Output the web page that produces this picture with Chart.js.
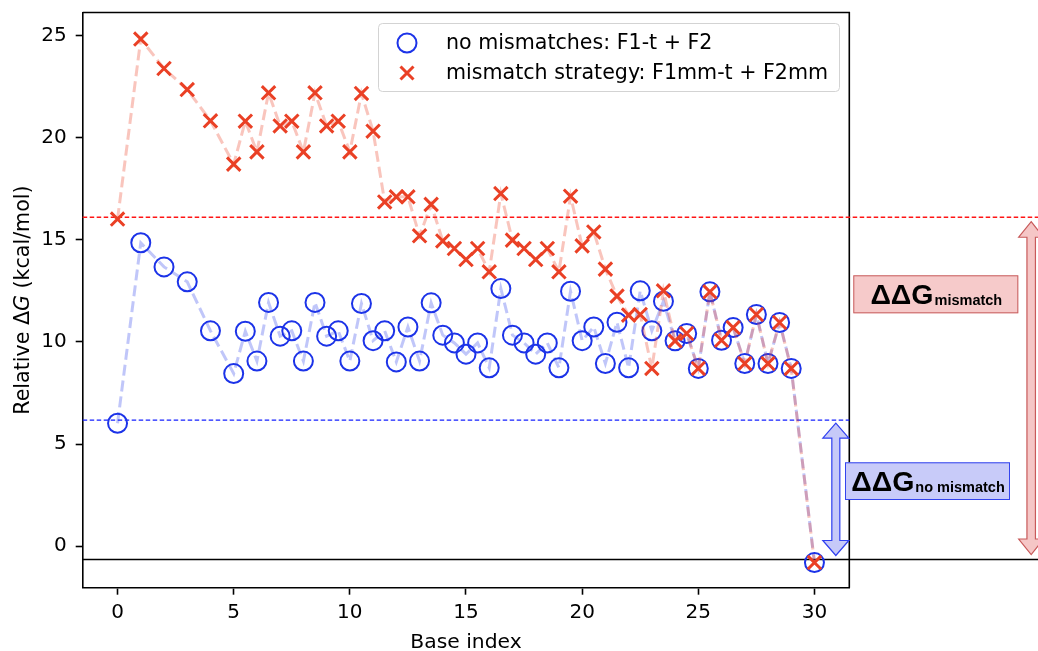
<!DOCTYPE html>
<html>
<head>
<meta charset="utf-8">
<script src="https://cdn.jsdelivr.net/npm/chart.js@4.4.1/dist/chart.umd.min.js"></script>
<style>
html,body{margin:0;padding:0;background:#fff;}
#wrap{width:1038px;height:651px;}
</style>
</head>
<body>
<div id="wrap"><canvas id="c" width="1038" height="651"></canvas></div>
<script>
// ---- data ----
const baseIndex = [0,1,2,3,4,5,5.5,6,6.5,7,7.5,8,8.5,9,9.5,10,10.5,11,11.5,12,12.5,13,13.5,14,14.5,15,15.5,16,16.5,17,17.5,18,18.5,19,19.5,20,20.5,21,21.5,22,22.5,23,23.5,24,24.5,25,25.5,26,26.5,27,27.5,28,28.5,29,30];
const noMismatch = [6.02,14.85,13.67,12.94,10.54,8.45,10.52,9.06,11.93,10.28,10.54,9.06,11.93,10.28,10.54,9.06,11.88,10.06,10.54,9.02,10.73,9.06,11.91,10.33,9.95,9.40,9.95,8.73,12.61,10.33,9.95,9.40,9.95,8.73,12.48,10.06,10.73,8.94,10.96,8.73,12.50,10.54,11.99,10.05,10.41,8.70,12.45,10.08,10.70,8.94,11.34,8.94,10.95,8.70,-0.80];
const mismatch = [16.01,24.82,23.38,22.35,20.82,18.70,20.80,19.30,22.19,20.57,20.80,19.30,22.19,20.57,20.80,19.30,22.16,20.31,16.85,17.10,17.10,15.19,16.73,14.94,14.57,14.03,14.57,13.43,17.26,14.98,14.57,14.03,14.57,13.43,17.13,14.70,15.38,13.56,12.24,11.31,11.34,8.70,12.50,10.05,10.41,8.70,12.45,10.08,10.70,8.94,11.34,8.94,10.95,8.70,-0.80];
const xTicks = [0,5,10,15,20,25,30];
const yTicks = [0,5,10,15,20,25];
const seriesLabels = ['no mismatches: F1-t + F2', 'mismatch strategy: F1mm-t + F2mm'];
const levelMismatch = 16.1;     // red dashed reference
const levelNoMismatch = 6.17;   // blue dashed reference
const levelFloor = -0.65;       // black solid reference
const arrowXNoMismatch = 30.92; // x (data units) of blue ΔΔG arrow
const arrowXMismatch = 39.33;   // x (data units) of red ΔΔG arrow

const BLUE = '#1c33e8';
const RED = '#ea4025';
const FONT = "'DejaVu Sans', sans-serif";
const TARGET = {left: 82.7, top: 11.7, right: 849.3, bottom: 587.7};

function doubleArrow(ctx, cx, yTop, yBot, shaftW, headW, headL, fill, stroke){
  ctx.beginPath();
  ctx.moveTo(cx, yTop);
  ctx.lineTo(cx + headW/2, yTop + headL);
  ctx.lineTo(cx + shaftW/2, yTop + headL);
  ctx.lineTo(cx + shaftW/2, yBot - headL);
  ctx.lineTo(cx + headW/2, yBot - headL);
  ctx.lineTo(cx, yBot);
  ctx.lineTo(cx - headW/2, yBot - headL);
  ctx.lineTo(cx - shaftW/2, yBot - headL);
  ctx.lineTo(cx - shaftW/2, yTop + headL);
  ctx.lineTo(cx - headW/2, yTop + headL);
  ctx.closePath();
  ctx.fillStyle = fill; ctx.fill();
  ctx.lineWidth = 1.2; ctx.strokeStyle = stroke; ctx.stroke();
}

function labelBox(ctx, x, y, w, h, fill, stroke, sub){
  ctx.fillStyle = fill; ctx.fillRect(x, y, w, h);
  ctx.lineWidth = 1; ctx.strokeStyle = stroke; ctx.strokeRect(x+0.5, y+0.5, w-1, h-1);
  const big = "bold 28.5px 'Liberation Sans', Arial, sans-serif";
  const small = "bold 14.5px 'Liberation Sans', Arial, sans-serif";
  ctx.font = big; const w1 = ctx.measureText('ΔΔG').width;
  ctx.font = small; const w2 = ctx.measureText(sub).width;
  const start = x + w/2 - (w1 + w2)/2;
  const base = y + h - 9.5;
  ctx.fillStyle = '#000'; ctx.textBaseline = 'alphabetic'; ctx.textAlign = 'left';
  ctx.font = big; ctx.fillText('ΔΔG', start, base);
  ctx.font = small; ctx.fillText(sub, start + w1 + 1, base + 1.5);
}

const annot = {
  id: 'annot',
  beforeDatasetsDraw(chart){
    const {ctx, chartArea: a, scales: {y}} = chart;
    ctx.save();
    ctx.strokeStyle = '#000'; ctx.lineWidth = 1.6;
    ctx.beginPath(); ctx.moveTo(a.left, a.top); ctx.lineTo(a.right, a.top); ctx.lineTo(a.right, a.bottom); ctx.stroke();
    ctx.lineWidth = 1.3; ctx.setLineDash([4.5, 2.5]);
    let yy = y.getPixelForValue(levelMismatch);
    ctx.strokeStyle = '#ff1515';
    ctx.beginPath(); ctx.moveTo(a.left, yy); ctx.lineTo(chart.width, yy); ctx.stroke();
    yy = y.getPixelForValue(levelNoMismatch);
    ctx.strokeStyle = '#1520ff';
    ctx.beginPath(); ctx.moveTo(a.left, yy); ctx.lineTo(a.right, yy); ctx.stroke();
    ctx.setLineDash([]);
    yy = y.getPixelForValue(levelFloor);
    ctx.strokeStyle = '#000'; ctx.lineWidth = 1.5;
    ctx.beginPath(); ctx.moveTo(a.left, yy); ctx.lineTo(chart.width, yy); ctx.stroke();
    ctx.restore();
  },
  afterDraw(chart){
    const {ctx, chartArea: a, scales: {x, y}} = chart;
    ctx.save();
    const yM = y.getPixelForValue(levelMismatch), yN = y.getPixelForValue(levelNoMismatch), yF = y.getPixelForValue(levelFloor);
    doubleArrow(ctx, x.getPixelForValue(arrowXNoMismatch), yN + 3, yF - 4, 8, 26, 15, '#c6c9f8', '#3040f0');
    doubleArrow(ctx, x.getPixelForValue(arrowXMismatch), yM + 4.5, yF - 5, 8.5, 25, 15.5, '#f5c6c6', '#c85a5a');
    labelBox(ctx, 845, 462.3, 165, 37.7, '#c8cbf9', '#3344ee', 'no mismatch');
    labelBox(ctx, 853.3, 275.3, 165, 38, '#f6caca', '#c86060', 'mismatch');
    // legend
    const lx = 378.5, ly = 23.5, lw = 461, lh = 68, r = 4;
    ctx.beginPath();
    ctx.moveTo(lx + r, ly); ctx.lineTo(lx + lw - r, ly); ctx.quadraticCurveTo(lx + lw, ly, lx + lw, ly + r);
    ctx.lineTo(lx + lw, ly + lh - r); ctx.quadraticCurveTo(lx + lw, ly + lh, lx + lw - r, ly + lh);
    ctx.lineTo(lx + r, ly + lh); ctx.quadraticCurveTo(lx, ly + lh, lx, ly + lh - r);
    ctx.lineTo(lx, ly + r); ctx.quadraticCurveTo(lx, ly, lx + r, ly); ctx.closePath();
    ctx.fillStyle = 'rgba(255,255,255,0.85)'; ctx.fill();
    ctx.strokeStyle = '#d3d3d3'; ctx.lineWidth = 1; ctx.stroke();
    ctx.beginPath(); ctx.arc(407, 43, 9.5, 0, Math.PI*2); ctx.strokeStyle = BLUE; ctx.lineWidth = 2; ctx.stroke();
    ctx.beginPath(); ctx.moveTo(400.5, 66.5); ctx.lineTo(413.5, 79.5); ctx.moveTo(413.5, 66.5); ctx.lineTo(400.5, 79.5);
    ctx.strokeStyle = RED; ctx.lineWidth = 3; ctx.stroke();
    ctx.fillStyle = '#000'; ctx.font = '20.6px ' + FONT; ctx.textAlign = 'left'; ctx.textBaseline = 'alphabetic';
    ctx.fillText(seriesLabels[0], 446, 48.5);
    ctx.fillText(seriesLabels[1], 446, 78.5);
    // y-axis title with italic G
    const parts = [['Relative Δ', '20.6px ' + FONT], ['G', 'italic 20.6px ' + FONT], [' (kcal/mol)', '20.6px ' + FONT]];
    let total = 0;
    parts.forEach(p => { ctx.font = p[1]; total += ctx.measureText(p[0]).width; });
    ctx.translate(29, (a.top + a.bottom)/2);
    ctx.rotate(-Math.PI/2);
    let px = -total/2;
    parts.forEach(p => { ctx.font = p[1]; ctx.fillText(p[0], px, 0); px += ctx.measureText(p[0]).width; });
    ctx.restore();
  }
};

const tickFont = {family: FONT, size: 20};
const pad = {left: 0, right: 188.7, top: 11.7, bottom: 0};
const chart = new Chart(document.getElementById('c'), {
  type: 'line',
  data: {
    datasets: [
      {
        label: seriesLabels[0],
        data: baseIndex.map((v, i) => ({x: v, y: noMismatch[i]})),
        borderColor: 'rgba(28,51,232,0.28)', borderWidth: 3, borderDash: [11, 5],
        pointStyle: 'circle', pointRadius: 9.5, pointHoverRadius: 9.5, pointBorderWidth: 2,
        pointBorderColor: BLUE, pointBackgroundColor: 'rgba(0,0,0,0)',
        fill: false, tension: 0, order: 1
      },
      {
        label: seriesLabels[1],
        data: baseIndex.map((v, i) => ({x: v, y: mismatch[i]})),
        borderColor: 'rgba(234,64,37,0.3)', borderWidth: 3, borderDash: [11, 5],
        pointStyle: 'crossRot', pointRadius: 9.5, pointHoverRadius: 9.5, pointBorderWidth: 3,
        pointBorderColor: RED, pointBackgroundColor: RED,
        fill: false, tension: 0, order: 0
      }
    ]
  },
  options: {
    responsive: false, animation: false, devicePixelRatio: 1, events: [],
    layout: {padding: pad},
    plugins: {legend: {display: false}, tooltip: {enabled: false}},
    scales: {
      x: {
        type: 'linear', min: -1.5, max: 31.5,
        afterBuildTicks: s => { s.ticks = xTicks.map(v => ({value: v})); },
        afterFit: s => { s.height = 63.3; s.paddingLeft = 0; s.paddingRight = 0; },
        grid: {display: true, drawOnChartArea: false, drawTicks: true, tickLength: 7, tickWidth: 1.6, tickColor: '#000'},
        border: {display: true, color: '#000', width: 1.6},
        ticks: {font: tickFont, color: '#000', padding: 6, maxRotation: 0, autoSkip: false},
        title: {display: true, text: 'Base index', font: {family: FONT, size: 20.3, lineHeight: 1}, color: '#000', padding: {top: 0, bottom: -2}}
      },
      y: {
        type: 'linear', min: -2.03, max: 26.12,
        afterBuildTicks: s => { s.ticks = yTicks.map(v => ({value: v})); },
        afterFit: s => { s.width = 82.7; s.paddingTop = 0; s.paddingBottom = 0; },
        grid: {display: true, drawOnChartArea: false, drawTicks: true, tickLength: 7, tickWidth: 1.6, tickColor: '#000'},
        border: {display: true, color: '#000', width: 1.6},
        ticks: {font: tickFont, color: '#000', padding: 9, autoSkip: false},
        title: {display: false}
      }
    }
  },
  plugins: [annot]
});
// nudge layout padding so the plot area lands exactly on the reference frame
for (let k = 0; k < 3; k++) {
  const ca = chart.chartArea;
  pad.left += TARGET.left - ca.left;
  pad.top += TARGET.top - ca.top;
  pad.right += ca.right - TARGET.right;
  pad.bottom += ca.bottom - TARGET.bottom;
  chart.options.layout.padding = {left: pad.left, right: pad.right, top: pad.top, bottom: pad.bottom};
  chart.update();
}
</script>
</body>
</html>
